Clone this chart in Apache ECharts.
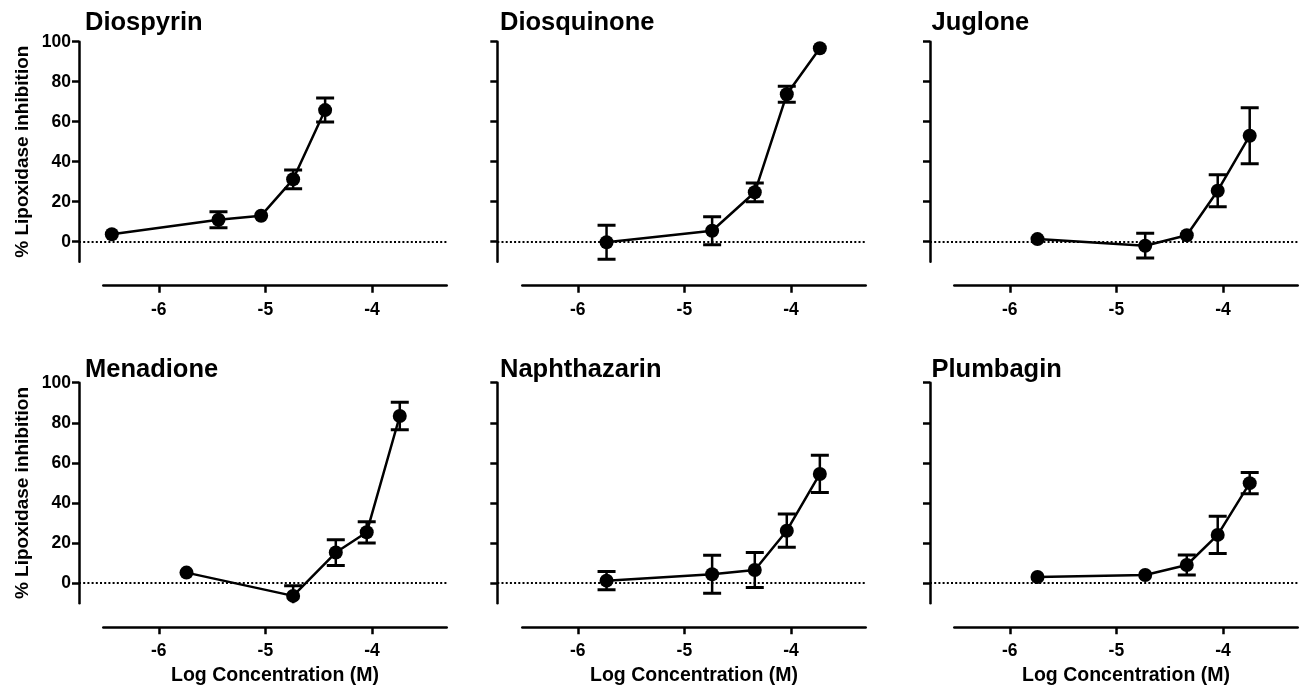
<!DOCTYPE html>
<html><head><meta charset="utf-8">
<script src="https://cdn.jsdelivr.net/npm/echarts@6/dist/echarts.min.js"></script>
<style>html,body{margin:0;padding:0;background:#fff}#c{width:1300px;height:689px}</style>
</head><body><div id="c"></div>
<script>
// ---------- DATA ----------
const compounds = ['Diospyrin', 'Diosquinone', 'Juglone', 'Menadione', 'Naphthazarin', 'Plumbagin'];
const yTicks = [0, 20, 40, 60, 80, 100];
const xTicks = [-6, -5, -4];
const yAxisTitle = '% Lipoxidase inhibition';
const xAxisTitle = 'Log Concentration (M)';

const diospyrinX   = [-6.44, -5.44, -5.04, -4.74, -4.44];
const diospyrinY   = [3.7, 11, 13, 31.2, 65.8];
const diospyrinErr = [0, 4, 0, 4.7, 6];

const diosquinoneX   = [-5.73, -4.74, -4.34, -4.04, -3.73];
const diosquinoneY   = [-0.3, 5.5, 24.7, 73.7, 96.7];
const diosquinoneErr = [8.5, 7, 4.7, 4, 0];

const jugloneX   = [-5.74, -4.73, -4.34, -4.05, -3.75];
const jugloneY   = [1.3, -2, 3.2, 25.5, 53];
const jugloneErr = [0, 6.2, 0, 8, 14];

const menadioneX   = [-5.74, -4.74, -4.34, -4.05, -3.74];
const menadioneY   = [5.3, -6.3, 15.3, 25.4, 83.4];
const menadioneErr = [0, 5.1, 6.4, 5.3, 6.8];

const naphthazarinX   = [-5.73, -4.74, -4.34, -4.04, -3.73];
const naphthazarinY   = [1.3, 4.5, 6.6, 26.2, 54.5];
const naphthazarinErr = [4.5, 9.5, 8.7, 8.3, 9.3];

const plumbaginX   = [-5.74, -4.73, -4.34, -4.05, -3.75];
const plumbaginY   = [3.1, 4.1, 9.1, 24.1, 49.9];
const plumbaginErr = [0, 0, 5, 9.3, 5.3];

const allX = [diospyrinX, diosquinoneX, jugloneX, menadioneX, naphthazarinX, plumbaginX];
const allY = [diospyrinY, diosquinoneY, jugloneY, menadioneY, naphthazarinY, plumbaginY];
const allErr = [diospyrinErr, diosquinoneErr, jugloneErr, menadioneErr, naphthazarinErr, plumbaginErr];

// ---------- LAYOUT ----------
const W = 1300;
const colYAxisX = [79, 497.3, 930];
const colXStart = [103.3, 522.3, 954.3];
const colXEnd = [446.7, 865.7, 1297.7];
const rowTop = [41.7, 382.7];
const rowHeight = [220, 220.6];
const titleLeft = [85, 500, 931.5];
const titleTop = [10, 356.5];
const xMin = -6.52, xMax = -3.3, yMin = -10, yMax = 100;
const FONT = '"Liberation Sans", Arial, Helvetica, sans-serif';
const BLACK = '#000';

const grids = [], xAxes = [], yAxes = [], series = [], titles = [];

function errorRender(params, api) {
  const x = api.value(0), y = api.value(1), e = api.value(2);
  if (!e) return null;
  const top = api.coord([x, y + e]);
  const bot = api.coord([x, y - e]);
  const hw = 9;
  const stV = { stroke: BLACK, lineWidth: 2.5 };
  const stC = { stroke: BLACK, lineWidth: 3 };
  return {
    type: 'group',
    children: [
      { type: 'line', shape: { x1: top[0], y1: top[1], x2: bot[0], y2: bot[1] }, style: stV },
      { type: 'line', shape: { x1: top[0] - hw, y1: top[1], x2: top[0] + hw, y2: top[1] }, style: stC },
      { type: 'line', shape: { x1: bot[0] - hw, y1: bot[1], x2: bot[0] + hw, y2: bot[1] }, style: stC }
    ]
  };
}

for (let i = 0; i < 6; i++) {
  const r = Math.floor(i / 3), c = i % 3;
  const pxPerUnit = (colXEnd[c] - colXStart[c]) / (xMax - xMin);
  const xMinA = xMin - (colXStart[c] - colYAxisX[c]) / pxPerUnit;
  const gA = 2 * i, gB = 2 * i + 1;

  grids.push({ left: colYAxisX[c], right: W - colXEnd[c], top: rowTop[r], height: rowHeight[r], containLabel: false });
  grids.push({ left: colXStart[c], right: W - colXEnd[c], top: rowTop[r], height: rowHeight[r], containLabel: false });

  xAxes.push({ gridIndex: gA, type: 'value', min: xMinA, max: xMax, show: false });
  xAxes.push({
    gridIndex: gB, type: 'value', min: xMin, max: xMax, position: 'bottom', offset: 24,
    axisLine: { show: true, onZero: false, lineStyle: { color: BLACK, width: 2.5 } },
    axisTick: { show: true, length: 7, customValues: xTicks, lineStyle: { color: BLACK, width: 2.5 } },
    axisLabel: { show: true, customValues: xTicks, color: BLACK, fontFamily: FONT, fontWeight: 'bold', fontSize: 17.5, margin: 15 },
    splitLine: { show: false },
    name: r === 1 ? xAxisTitle : '', nameLocation: 'middle', nameGap: 38,
    nameTextStyle: { color: BLACK, fontFamily: FONT, fontWeight: 'bold', fontSize: 19.5 }
  });

  yAxes.push({
    gridIndex: gA, type: 'value', min: yMin, max: yMax, position: 'left',
    axisLine: { show: true, onZero: false, lineStyle: { color: BLACK, width: 2.5 } },
    axisTick: { show: true, length: 7, customValues: yTicks, lineStyle: { color: BLACK, width: 2.5 } },
    axisLabel: { show: c === 0, customValues: yTicks, color: BLACK, fontFamily: FONT, fontWeight: 'bold', fontSize: 17.5, margin: 8 },
    splitLine: { show: false },
    name: c === 0 ? yAxisTitle : '', nameLocation: 'middle', nameGap: 47,
    nameTextStyle: { color: BLACK, fontFamily: FONT, fontWeight: 'bold', fontSize: 19 }
  });
  yAxes.push({ gridIndex: gB, type: 'value', min: yMin, max: yMax, show: false });

  const X = allX[i], Y = allY[i], E = allErr[i];

  series.push({
    type: 'custom', xAxisIndex: gA, yAxisIndex: gA, clip: true, z: 2, silent: true,
    data: X.map((x, j) => [x, Y[j], E[j]]),
    encode: { x: 0, y: 1 },
    renderItem: errorRender
  });
  series.push({
    type: 'line', xAxisIndex: gA, yAxisIndex: gA, z: 3,
    data: X.map((x, j) => [x, Y[j]]),
    symbol: 'circle', symbolSize: 14, showSymbol: true,
    itemStyle: { color: BLACK },
    lineStyle: { color: BLACK, width: 2.5 },
    markLine: {
      silent: true, symbol: 'none', label: { show: false },
      lineStyle: { color: BLACK, type: [2, 2.2], width: 2 },
      data: [{ yAxis: 0 }]
    }
  });

  titles.push({
    text: compounds[i], left: titleLeft[c], top: titleTop[r], padding: 0,
    textStyle: { color: BLACK, fontFamily: FONT, fontWeight: 'bold', fontSize: 25.5 }
  });
}

const chart = echarts.init(document.getElementById('c'), null, { renderer: 'canvas' });
chart.setOption({
  animation: false,
  backgroundColor: '#fff',
  title: titles,
  grid: grids,
  xAxis: xAxes,
  yAxis: yAxes,
  series: series
});
</script>
</body></html>
